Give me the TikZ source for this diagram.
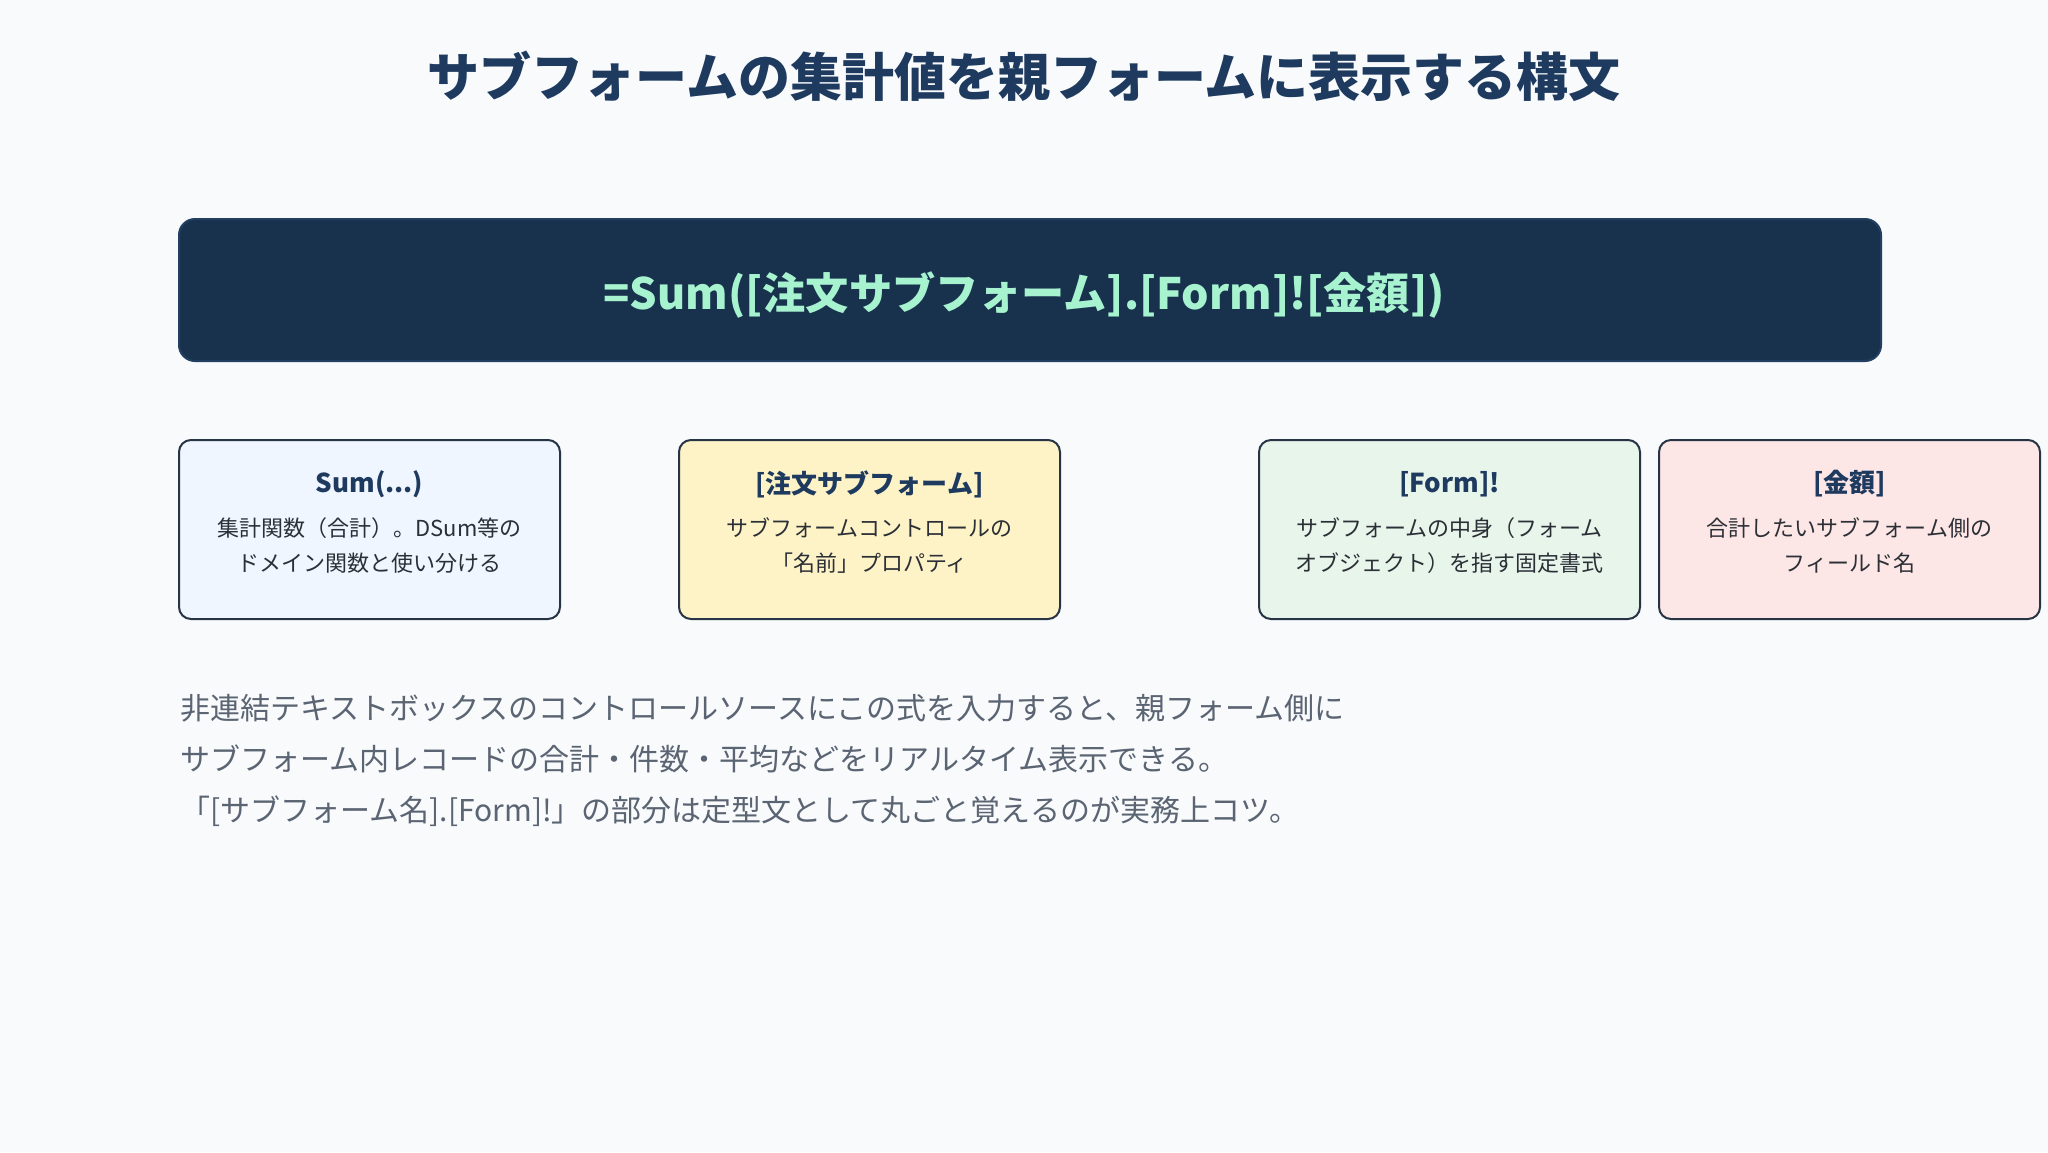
\documentclass[tikz,border=0pt]{standalone}
\usepackage{fontspec}
\setmainfont{Noto Sans CJK JP}
\definecolor{bgc}{HTML}{F8FAFC}
\definecolor{navy}{HTML}{1E3A5F}
\definecolor{darkbox}{HTML}{18324E}
\definecolor{darkedge}{HTML}{223F62}
\definecolor{mint}{HTML}{A7F3D0}
\definecolor{cardedge}{HTML}{263445}
\definecolor{descc}{HTML}{2B2F36}
\definecolor{parac}{HTML}{5B6472}
\definecolor{fillA}{HTML}{EFF6FF}
\definecolor{fillB}{HTML}{FEF3C7}
\definecolor{fillC}{HTML}{E8F5EB}
\definecolor{fillD}{HTML}{FDE6E6}
\tikzset{
  card/.style={draw=cardedge, line width=1pt, rounded corners=6pt, minimum width=190.5pt, minimum height=89.5pt, inner sep=0pt},
  ctitle/.style={text=navy, font=\fontsize{13}{16}\selectfont\bfseries, inner sep=0pt},
  cdesc/.style={text=descc, font=\fontsize{11}{17.5}\selectfont, align=center, inner sep=0pt},
}
\begin{document}
\begin{tikzpicture}[x=0.5pt,y=-0.5pt]
\fill[bgc] (0,0) rectangle (2048,1152);
\useasboundingbox (0,0) rectangle (2048,1152);

\node[text=navy, font=\fontsize{26}{30}\selectfont\bfseries, inner sep=0pt] (title) at (1024,76) {サブフォームの集計値を親フォームに表示する構文};

\node[fill=darkbox, draw=darkedge, line width=1pt, rounded corners=8pt, minimum width=851pt, minimum height=71pt] (formulabox) at (1030,290) {};
\node[text=mint, font=\fontsize{21.6}{25}\selectfont\bfseries, inner sep=0pt] (formula) at (1024,295) {=Sum([注文サブフォーム].[Form]![金額])};

\node[card, fill=fillA] (b1) at (369.5,529.5) {};
\node[ctitle] (t1) at (369.5,484) {Sum(...)};
\node[cdesc] (d1) at (369.5,545.5) {集計関数（合計）。DSum等の\\ドメイン関数と使い分ける};

\node[card, fill=fillB] (b2) at (869.5,529.5) {};
\node[ctitle] (t2) at (869.5,484) {[注文サブフォーム]};
\node[cdesc] (d2) at (869.5,545.5) {サブフォームコントロールの\\「名前」プロパティ};

\node[card, fill=fillC] (b3) at (1449.5,529.5) {};
\node[ctitle] (t3) at (1449.5,484) {[Form]!};
\node[cdesc] (d3) at (1449.5,545.5) {サブフォームの中身（フォーム\\オブジェクト）を指す固定書式};

\node[card, fill=fillD] (b4) at (1849.5,529.5) {};
\node[ctitle] (t4) at (1849.5,484) {[金額]};
\node[cdesc] (d4) at (1849.5,545.5) {合計したいサブフォーム側の\\フィールド名};

\node[text=parac, font=\fontsize{15}{25.5}\selectfont, align=left, inner sep=0pt, anchor=west] (para) at (180,760.5) {非連結テキストボックスのコントロールソースにこの式を入力すると、親フォーム側に\\サブフォーム内レコードの合計・件数・平均などをリアルタイム表示できる。\\「[サブフォーム名].[Form]!」の部分は定型文として丸ごと覚えるのが実務上コツ。};
\end{tikzpicture}
\end{document}
